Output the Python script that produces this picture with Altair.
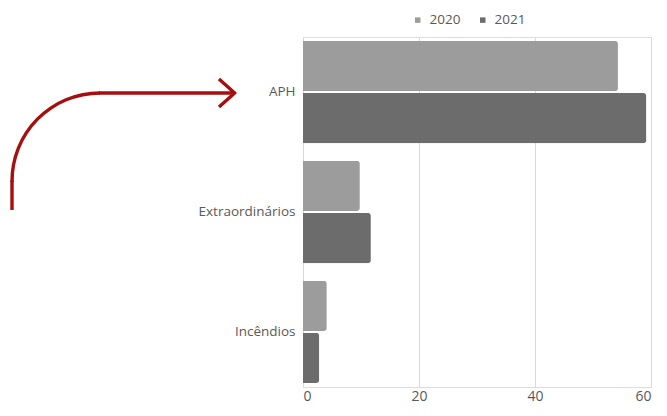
import altair as alt
import pandas as pd

categories = ["APH", "Extraordinários", "Incêndios"]
years = ["2020", "2021"]
values_2020 = [54.3, 9.8, 4.1]
values_2021 = [59.2, 11.7, 2.8]

rows = []
for c, v0, v1 in zip(categories, values_2020, values_2021):
    rows.append({"categoria": c, "ano": "2020", "valor": v0})
    rows.append({"categoria": c, "ano": "2021", "valor": v1})
df = pd.DataFrame(rows)

FONT = "Open Sans"
TXT = "#595959"
RED = "#a50f0f"

bars = alt.Chart(df).mark_bar(cornerRadiusEnd=3).encode(
    y=alt.Y("categoria:N", sort=categories, title=None,
            scale=alt.Scale(paddingInner=0.146, paddingOuter=0.033),
            axis=alt.Axis(ticks=False, domain=False, labelFontSize=13.5,
                          labelColor=TXT, labelFont=FONT, labelPadding=8)),
    yOffset=alt.YOffset("ano:N", sort=years, scale=alt.Scale(paddingInner=0.037)),
    x=alt.X("valor:Q", title=None,
            scale=alt.Scale(domain=[0, 60], nice=False),
            axis=alt.Axis(values=[0, 20, 40, 60], ticks=False, domain=False,
                          gridColor="#d9d9d9", labelFontSize=14, labelColor=TXT,
                          labelFont=FONT, labelPadding=2)),
    color=alt.Color("ano:N", sort=years,
                    scale=alt.Scale(domain=years, range=["#9c9c9c", "#6c6c6c"]),
                    legend=alt.Legend(title=None, orient="none", direction="horizontal",
                                      legendX=108, legendY=-24, symbolType="square",
                                      symbolSize=30, labelFontSize=13.5, labelColor=TXT,
                                      labelFont=FONT, columnPadding=15, labelOffset=5)),
)

# annotation arrow (decorative), positioned in pixel space
arc = alt.Chart(pd.DataFrame({"a": [0]})).mark_arc(
    radius=89.7, radius2=86.3, theta=4.70, theta2=6.2832, color=RED
).encode(x=alt.value(-203), y=alt.value(144))

segs = pd.DataFrame({
    "x": [-291, -204, -84, -84],
    "y": [143.5, 56, 42, 70],
    "x2": [-291, -68, -67.5, -67.5],
    "y2": [173, 56, 56.8, 55.2],
})
rules = alt.Chart(segs).mark_rule(color=RED, strokeWidth=3.4, strokeCap="butt").encode(
    x=alt.X("x:Q", scale=None), y=alt.Y("y:Q", scale=None),
    x2="x2:Q", y2="y2:Q",
)

chart = alt.layer(bars, arc, rules).properties(
    width=348, height=350,
    autosize=alt.AutoSizeParams(type="none"),
    padding={"left": 295, "top": 29, "right": 8, "bottom": 17},
).configure_view(stroke=None).configure(font=FONT)

chart.save("out.html", embed_options={"renderer": "svg", "actions": False})
